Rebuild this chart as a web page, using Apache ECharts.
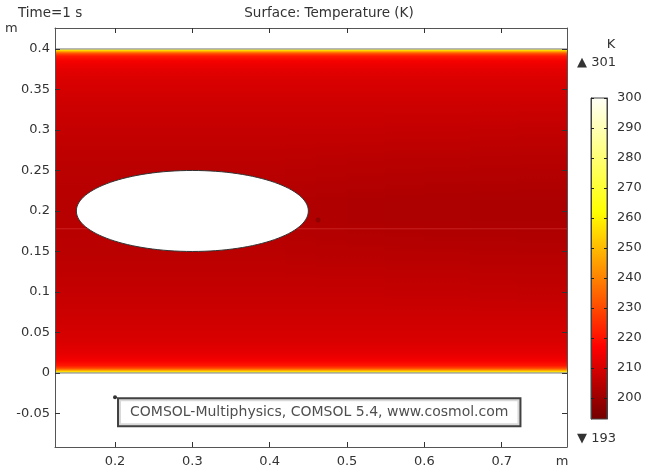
<!DOCTYPE html>
<html><head><meta charset="utf-8">
<script src="https://cdn.jsdelivr.net/npm/echarts@6/dist/echarts.min.js"></script>
<style>html,body{margin:0;padding:0;background:#fff}#c{width:645px;height:471px}</style>
</head><body><div id="c"></div>
<script>
// ---- data ----
const xTicks = [0.2, 0.3, 0.4, 0.5, 0.6, 0.7];
const yTicks = [-0.05, 0, 0.05, 0.1, 0.15, 0.2, 0.25, 0.3, 0.35, 0.4];
const colorbarTicks = [200, 210, 220, 230, 240, 250, 260, 270, 280, 290, 300];
const xRange = [0.1224, 0.7844];
const yRange = [-0.0914, 0.4259];
const domainY = [0, 0.4];
const columnEdges = [0.1224, 0.2, 0.42, 0.46, 0.5, 0.55, 0.6, 0.66, 0.72, 0.7844];
const yLevels = [0, 0.001, 0.002, 0.004, 0.006, 0.009, 0.015, 0.025, 0.04, 0.07, 0.1, 0.14, 0.17, 0.19,
                 0.21, 0.23, 0.26, 0.3, 0.33, 0.36, 0.375, 0.385, 0.391, 0.394, 0.396, 0.398, 0.399, 0.4];
const wallProfileLow  = [300, 266, 254, 240, 229, 221, 215.5, 212.5, 210.5, 208.5];   // y = 0 .. 0.07
const wallProfileHigh = [208.5, 210.5, 212.5, 215.5, 221, 229, 240, 254, 266, 300];   // y = 0.33 .. 0.4
// core temperatures at y = 0.1, 0.14, 0.17, 0.19, 0.21, 0.23, 0.26, 0.3 for each column
const coreCol1 = [207, 205.5, 205, 204.6, 204.6, 205, 205.5, 207];
const coreCol2 = [207, 205.5, 204.7, 204.3, 204.3, 204.7, 205.5, 207];
const coreCol3 = [207, 205.3, 204.3, 203.7, 203.7, 204.3, 205.3, 207];
const coreCol4 = [207, 205.2, 204.1, 203.4, 203.4, 204.1, 205.2, 207];
const coreCol5 = [207, 205.1, 203.9, 203.2, 203.2, 203.9, 205, 207];
const coreCol6 = [206.8, 205, 203.8, 203, 203, 203.8, 204.9, 206.8];
const coreCol7 = [206.8, 205, 203.7, 202.9, 202.9, 203.7, 204.8, 206.8];
const coreCol8 = [206.7, 204.9, 203.6, 202.8, 202.8, 203.6, 204.7, 206.7];
const coreCol9 = [206.6, 204.8, 203.5, 202.7, 202.7, 203.5, 204.6, 206.6];
const columnCores = [coreCol1, coreCol2, coreCol3, coreCol4, coreCol5, coreCol6, coreCol7, coreCol8, coreCol9];
const cmapTemps = [193, 217, 262, 301];
const cmapColors = ['#730000', '#ff0000', '#ffff00', '#ffffff'];
const colorRange = [193, 300];
const ellipseCenter = [0.3, 0.2];
const ellipseSemiAxes = [0.15, 0.05];
const seamY = 0.178;
const wakeSpot = [0.4625, 0.189];
const annotationPoint = [0.2, -0.03];
const annotationText = 'COMSOL-Multiphysics, COMSOL 5.4, www.cosmol.com';
const maxText = '\u25B2 301';
const minText = '\u25BC 193';

// ---- colour helpers ----
function hexRgb(h) { return [1, 3, 5].map(i => parseInt(h.slice(i, i + 2), 16)); }
function tempColor(T) {
  if (T <= cmapTemps[0]) return cmapColors[0];
  for (let i = 1; i < cmapTemps.length; i++) {
    if (T <= cmapTemps[i]) {
      const t = (T - cmapTemps[i - 1]) / (cmapTemps[i] - cmapTemps[i - 1]);
      const a = hexRgb(cmapColors[i - 1]), b = hexRgb(cmapColors[i]);
      return 'rgb(' + a.map((v, k) => Math.round(v + (b[k] - v) * t)).join(',') + ')';
    }
  }
  return cmapColors[cmapColors.length - 1];
}

const FONT = 'DejaVu Sans';
const TXT = '#333';
const chart = echarts.init(document.getElementById('c'), null, {renderer: 'canvas'});

const axisCommon = {
  type: 'value', splitLine: {show: false}, z: 10,
  axisLine: {show: true, onZero: false, lineStyle: {color: '#555', width: 1}}
};

chart.setOption({
  animation: false,
  backgroundColor: '#fff',
  grid: [
    {left: 55, right: 78, top: 28, bottom: 24},
    {left: 591, width: 16, top: 98, height: 321}
  ],
  xAxis: [
    Object.assign({}, axisCommon, {gridIndex: 0, min: xRange[0], max: xRange[1], position: 'bottom',
      axisTick: {show: true, inside: true, length: 5, customValues: xTicks, lineStyle: {color: '#333'}},
      axisLabel: {customValues: xTicks, margin: 8, color: TXT, fontSize: 13, fontFamily: FONT}}),
    Object.assign({}, axisCommon, {gridIndex: 0, min: xRange[0], max: xRange[1], position: 'top',
      axisTick: {show: true, inside: true, length: 5, customValues: xTicks, lineStyle: {color: '#333'}},
      axisLabel: {show: false}}),
    {gridIndex: 1, type: 'value', min: 0, max: 1, show: false}
  ],
  yAxis: [
    Object.assign({}, axisCommon, {gridIndex: 0, min: yRange[0], max: yRange[1], position: 'left',
      axisTick: {show: true, inside: true, length: 5, customValues: yTicks, lineStyle: {color: '#333'}},
      axisLabel: {customValues: yTicks, margin: 5, color: TXT, fontSize: 13, fontFamily: FONT}}),
    Object.assign({}, axisCommon, {gridIndex: 0, min: yRange[0], max: yRange[1], position: 'right',
      axisTick: {show: true, inside: true, length: 5, customValues: yTicks, lineStyle: {color: '#333'}},
      axisLabel: {show: false}}),
    Object.assign({}, axisCommon, {gridIndex: 1, min: colorRange[0], max: colorRange[1], position: 'left',
      axisLine: {show: true, onZero: false, lineStyle: {color: '#444', width: 1}},
      axisTick: {show: true, inside: true, length: 3, customValues: colorbarTicks, lineStyle: {color: '#222'}},
      axisLabel: {show: false}}),
    Object.assign({}, axisCommon, {gridIndex: 1, min: colorRange[0], max: colorRange[1], position: 'right',
      axisLine: {show: true, onZero: false, lineStyle: {color: '#444', width: 1}},
      axisTick: {show: true, inside: true, length: 3, customValues: colorbarTicks, lineStyle: {color: '#222'}},
      axisLabel: {customValues: colorbarTicks, margin: 10, color: TXT, fontSize: 13, fontFamily: FONT}})
  ],
  series: [
    { // temperature field, one vertical profile per column
      type: 'custom', xAxisIndex: 0, yAxisIndex: 0, silent: true, z: 1, clip: true,
      data: columnCores.map((t, i) => [columnEdges[i], columnEdges[i + 1], i]),
      encode: {x: [0, 1]},
      renderItem: function (params, api) {
        const idx = api.value(2);
        const p0 = api.coord([api.value(0), domainY[1]]);
        const p1 = api.coord([api.value(1), domainY[0]]);
        const temps = wallProfileLow.concat(columnCores[idx], wallProfileHigh);
        const stops = yLevels.map((y, k) => ({
          offset: (domainY[1] - y) / (domainY[1] - domainY[0]),
          color: tempColor(temps[k])
        })).reverse();
        const xa = Math.floor(p0[0]);
        const xb = Math.ceil(p1[0]) + 2;
        return {
          type: 'rect',
          shape: {x: xa, y: p0[1], width: xb - xa, height: p1[1] - p0[1]},
          style: {fill: {type: 'linear', x: 0, y: 0, x2: 0, y2: 1, colorStops: stops}}
        };
      }
    },
    { // faint mesh seam
      type: 'line', xAxisIndex: 0, yAxisIndex: 0, silent: true, z: 2, symbol: 'none',
      data: [[xRange[0], seamY], [xRange[1], seamY]],
      lineStyle: {color: 'rgba(255,110,110,0.3)', width: 1}
    },
    { // domain boundaries
      type: 'line', xAxisIndex: 0, yAxisIndex: 0, silent: true, z: 3, symbol: 'none',
      data: [[xRange[0], domainY[1]], [xRange[1], domainY[1]]],
      lineStyle: {color: '#777', width: 1}
    },
    {
      type: 'line', xAxisIndex: 0, yAxisIndex: 0, silent: true, z: 3, symbol: 'none',
      data: [[xRange[0], domainY[0]], [xRange[1], domainY[0]]],
      lineStyle: {color: '#777', width: 1}
    },
    { // small dark spot behind the ellipse
      type: 'scatter', xAxisIndex: 0, yAxisIndex: 0, silent: true, z: 3,
      data: [wakeSpot], symbolSize: 5,
      itemStyle: {color: '#6a0000', opacity: 0.45}
    },
    { // elliptical hole
      type: 'custom', xAxisIndex: 0, yAxisIndex: 0, silent: true, z: 4,
      data: [[ellipseCenter[0], ellipseCenter[1], ellipseSemiAxes[0], ellipseSemiAxes[1]]],
      encode: {x: 0, y: 1},
      renderItem: function (params, api) {
        const c = api.coord([api.value(0), api.value(1)]);
        const s = api.size([api.value(2), api.value(3)]);
        return {
          type: 'ellipse',
          shape: {cx: c[0], cy: c[1], rx: s[0], ry: s[1]},
          style: {fill: '#fff', stroke: '#333', lineWidth: 1}
        };
      }
    },
    { // annotation point + label box
      type: 'scatter', xAxisIndex: 0, yAxisIndex: 0, silent: true, z: 5,
      data: [annotationPoint], symbolSize: 4,
      itemStyle: {color: '#000'},
      label: {
        show: true, formatter: annotationText, position: [6, 4], align: 'left', verticalAlign: 'top',
        color: '#222', fontSize: 14, fontFamily: FONT, lineHeight: 17,
        backgroundColor: '#fff', borderColor: '#111', borderWidth: 2, padding: [5, 11, 4, 11]
      }
    },
    { // colour bar
      type: 'custom', xAxisIndex: 2, yAxisIndex: 2, silent: true, z: 1,
      data: [[0, colorRange[0], 1, colorRange[1]]],
      encode: {x: [0, 2], y: [1, 3]},
      renderItem: function (params, api) {
        const p0 = api.coord([api.value(0), api.value(3)]);
        const p1 = api.coord([api.value(2), api.value(1)]);
        const span = colorRange[1] - colorRange[0];
        const temps = [colorRange[1]].concat(cmapTemps.filter(t => t > colorRange[0] && t < colorRange[1]).reverse(), [colorRange[0]]);
        const stops = temps.map(t => ({offset: (colorRange[1] - t) / span, color: tempColor(t)}));
        return {
          type: 'rect',
          shape: {x: p0[0], y: p0[1], width: p1[0] - p0[0], height: p1[1] - p0[1]},
          style: {fill: {type: 'linear', x: 0, y: 0, x2: 0, y2: 1, colorStops: stops}, stroke: '#444', lineWidth: 1}
        };
      }
    }
  ],
  graphic: [
    {type: 'text', x: 18, y: 13, style: {text: 'Time=1 s', font: '13.5px ' + FONT, fill: TXT, verticalAlign: 'middle'}},
    {type: 'text', x: 329, y: 13, style: {text: 'Surface: Temperature (K)', font: '13.5px ' + FONT, fill: TXT, align: 'center', verticalAlign: 'middle'}},
    {type: 'text', x: 5, y: 29, style: {text: 'm', font: '13px ' + FONT, fill: TXT, verticalAlign: 'middle'}},
    {type: 'text', x: 562, y: 462, style: {text: 'm', font: '13px ' + FONT, fill: TXT, align: 'center', verticalAlign: 'middle'}},
    {type: 'text', x: 611, y: 45, style: {text: 'K', font: '13px ' + FONT, fill: TXT, align: 'center', verticalAlign: 'middle'}},
    {type: 'text', x: 577, y: 63, style: {text: maxText, font: '13px ' + FONT, fill: TXT, verticalAlign: 'middle'}},
    {type: 'text', x: 577, y: 439, style: {text: minText, font: '13px ' + FONT, fill: TXT, verticalAlign: 'middle'}}
  ]
});
</script></body></html>
